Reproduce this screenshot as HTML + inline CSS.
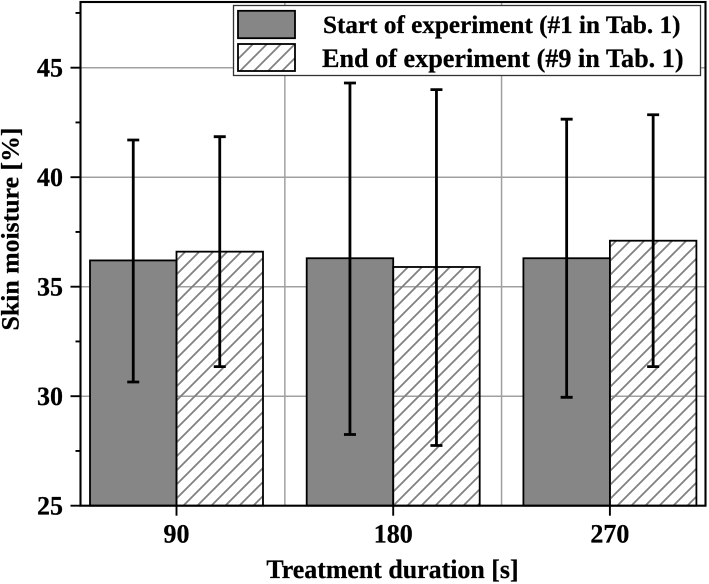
<!DOCTYPE html>
<html>
<head>
<meta charset="utf-8">
<style>
html,body{margin:0;padding:0;background:#fff;width:709px;height:584px;overflow:hidden}
svg{display:block;font-family:"Liberation Serif",serif;font-weight:bold;fill:#000}
text{stroke:#000;stroke-width:0.25px}
</style>
</head>
<body>
<svg id="chart" xmlns="http://www.w3.org/2000/svg" width="709" height="584" viewBox="0 0 709 584">
<defs>
<pattern id="hatch" patternUnits="userSpaceOnUse" width="14" height="14" patternTransform="translate(3 0)">
<path d="M-3.5 3.5L3.5 -3.5M0 14L14 0M10.5 17.5L17.5 10.5" stroke="#808080" stroke-width="1.8" fill="none"/>
</pattern>
</defs>
<g id="root" style="filter:blur(0.3px)"></g>
</svg>
<script>
const categories = ["90", "180", "270"];
const startValues = [36.2, 36.3, 36.3];
const endValues = [36.6, 35.9, 37.1];
const startErrHigh = [41.7, 44.3, 42.65];
const startErrLow = [30.65, 28.25, 29.95];
const endErrHigh = [41.85, 44.0, 42.85];
const endErrLow = [31.35, 27.75, 31.35];
const yTicks = [25, 30, 35, 40, 45];
const yMinorTicks = [27.5, 32.5, 37.5, 42.5, 47.5];
const yMin = 25;
const yMax = 48;

const NS = "http://www.w3.org/2000/svg";
const root = document.getElementById("root");
const plotL = 80.5, plotR = 705.5, plotT = 2, plotB = 505.7;
const barW = 86.5;
const catStep = 216.7, cat0 = 176.5;
function y(v){ return plotB - (v - yMin) * (plotB - plotT) / (yMax - yMin); }
function x(i){ return cat0 + i * catStep; }
function add(tag, attrs, text){
  const el = document.createElementNS(NS, tag);
  for (const k in attrs) el.setAttribute(k, attrs[k]);
  if (text !== undefined) el.textContent = text;
  root.appendChild(el);
  return el;
}
let el;

// gridlines
yTicks.slice(1).forEach(function(t){
  el = add("line", {x1: plotL, x2: plotR, y1: y(t), y2: y(t), stroke: "#a0a0a0", "stroke-width": 1.5});
  
  
});
categories.slice(0, -1).forEach(function(c, i){
  const gx = x(i) + catStep / 2;
  el = add("line", {x1: gx, x2: gx, y1: plotT, y2: plotB, stroke: "#a0a0a0", "stroke-width": 1.5});
  
  
});

// bars
categories.forEach(function(c, i){
  el = add("rect", {x: x(i) - barW, y: y(startValues[i]), width: barW, height: plotB - y(startValues[i]), fill: "#868686", stroke: "#000", "stroke-width": 1.8});
  
  
  el = add("rect", {x: x(i), y: y(endValues[i]), width: barW, height: plotB - y(endValues[i]), fill: "url(#hatch)", stroke: "#000", "stroke-width": 1.8});
  
  
});

// error bars
function errorBar(cx, hi, lo, name){
  const d = "M" + cx + " " + y(hi) + "V" + y(lo) + "M" + (cx - 6) + " " + y(hi) + "H" + (cx + 6) + "M" + (cx - 6) + " " + y(lo) + "H" + (cx + 6);
  el = add("path", {d: d, stroke: "#000", "stroke-width": 2.8, fill: "none"});
  
  
}
categories.forEach(function(c, i){
  errorBar(x(i) - barW / 2, startErrHigh[i], startErrLow[i], 'error-bar-start-' + c);
  errorBar(x(i) + barW / 2, endErrHigh[i], endErrLow[i], 'error-bar-end-' + c);
});

// plot frame
el = add("rect", {x: plotL, y: plotT, width: plotR - plotL, height: plotB - plotT, fill: "none", stroke: "#000", "stroke-width": 2.1});



// y ticks and labels
yTicks.forEach(function(t){
  el = add("line", {x1: plotL - 10, x2: plotL, y1: y(t), y2: y(t), stroke: "#000", "stroke-width": 1.9});
  
  
  el = add("text", {x: 63, y: y(t) + 9, "text-anchor": "end", "font-size": 26}, String(t));
  
  
});
yMinorTicks.forEach(function(t){
  el = add("line", {x1: plotL - 5, x2: plotL, y1: y(t), y2: y(t), stroke: "#000", "stroke-width": 1.9});
  
  
});

// x ticks and labels
categories.forEach(function(c, i){
  el = add("line", {x1: x(i), x2: x(i), y1: plotB, y2: plotB + 10, stroke: "#000", "stroke-width": 1.9});
  
  
  el = add("text", {x: x(i), y: 542.7, "text-anchor": "middle", "font-size": 26}, c);
  
  
});

// axis titles
el = add("text", {x: 392.5, y: 578, "text-anchor": "middle", "font-size": 25.9}, "Treatment duration [s]");


el = add("text", {transform: "translate(18.3 229) rotate(-90)", "text-anchor": "middle", "font-size": 25.8}, "Skin moisture [%]");



// legend
el = add("rect", {x: 233.5, y: 5.5, width: 467, height: 70, fill: "#fff", stroke: "#333", "stroke-width": 1.3});


el = add("rect", {x: 238, y: 10.8, width: 57, height: 27.4, fill: "#868686", stroke: "#000", "stroke-width": 1.8});


el = add("rect", {x: 238, y: 44, width: 57, height: 27, fill: "url(#hatch)", stroke: "#000", "stroke-width": 1.8});


el = add("text", {x: 323, y: 33, "font-size": 25.2}, "Start of experiment (#1 in Tab. 1)");


el = add("text", {x: 322, y: 67, "font-size": 26.2}, "End of experiment (#9 in Tab. 1)");


</script>
</body>
</html>
